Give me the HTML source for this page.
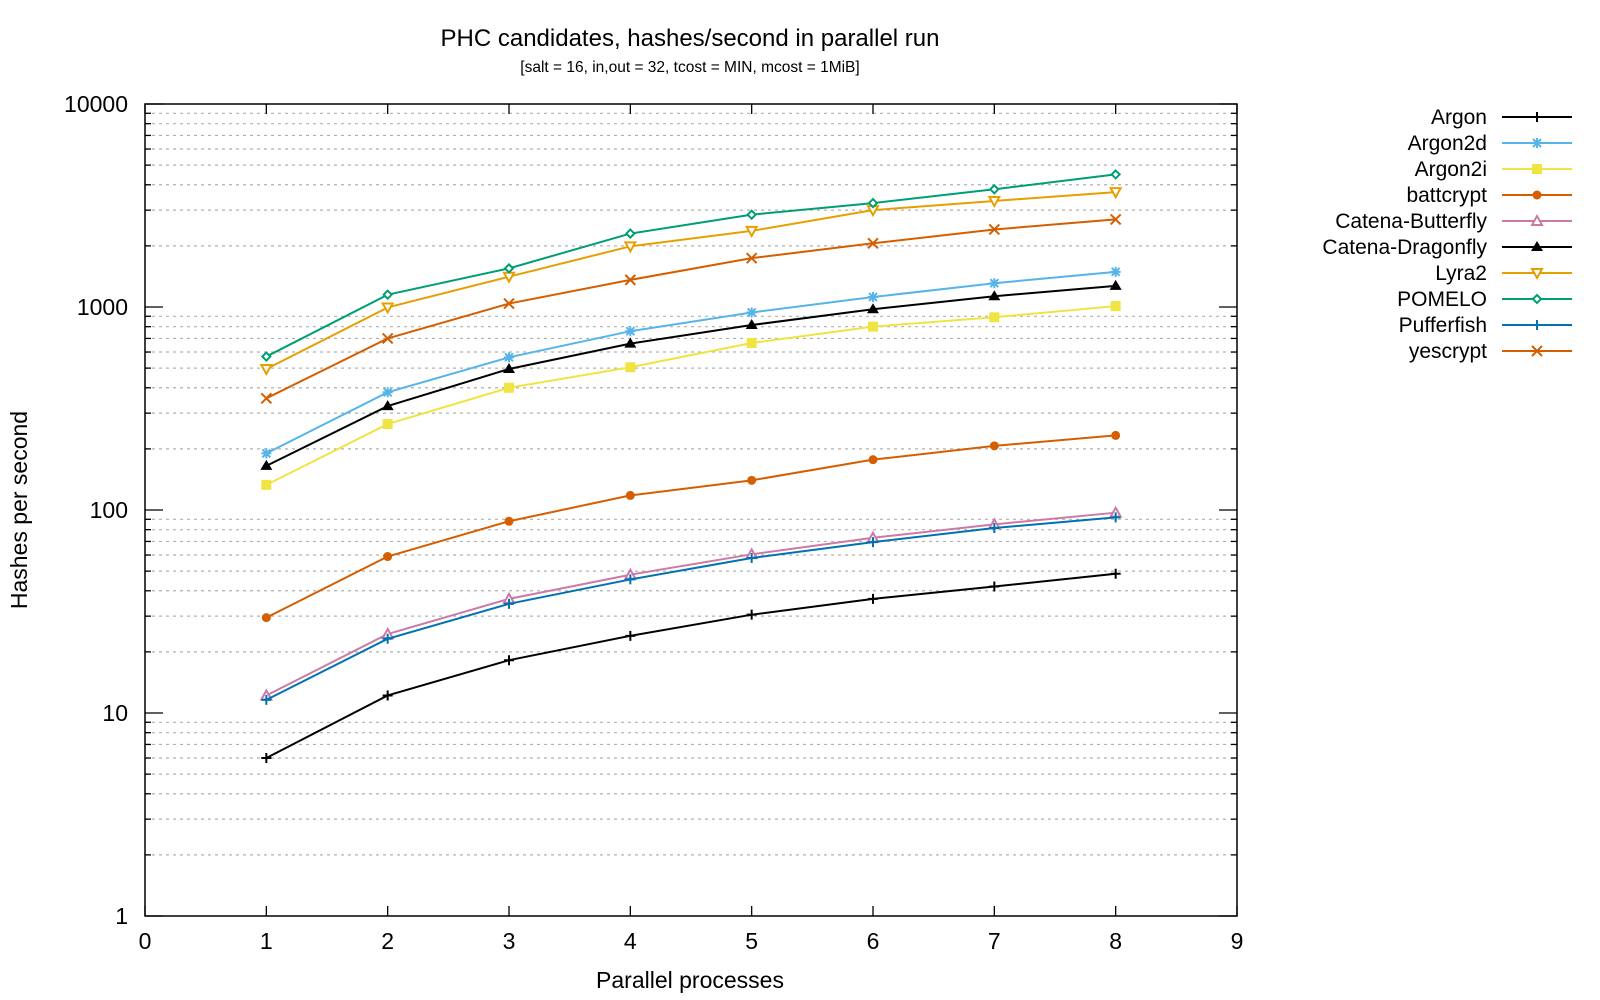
<!DOCTYPE html>
<html><head><meta charset="utf-8"><style>
body{margin:0;background:#fff;}
svg{display:block;font-family:"Liberation Sans",sans-serif;}
</style></head><body>
<svg id="chart" width="1600" height="1000" viewBox="0 0 1600 1000">
<text x="690" y="46" font-size="24" text-anchor="middle">PHC candidates, hashes/second in parallel run</text>
<text x="690" y="72" font-size="15.5" text-anchor="middle">[salt = 16, in,out = 32, tcost = MIN, mcost = 1MiB]</text>
<text transform="translate(27,510) rotate(-90)" font-size="23" text-anchor="middle">Hashes per second</text>
<text x="690" y="988" font-size="23" text-anchor="middle">Parallel processes</text>
<g id="grid"></g><g id="axes"></g><g id="series"></g><g id="legend"></g>
</svg>
<script>
const xs=[1,2,3,4,5,6,7,8];
const names=["Argon","Argon2d","Argon2i","battcrypt","Catena-Butterfly","Catena-Dragonfly","Lyra2","POMELO","Pufferfish","yescrypt"];
const argon=[6,12.2,18.2,24,30.5,36.5,42,48.5];
const argon2d=[190,380,565,760,940,1120,1310,1490];
const argon2i=[133,265,400,505,665,800,890,1010];
const battcrypt=[29.5,59,88,118,140,177,207,233];
const catenaButterfly=[12.2,24.5,36.5,48,60.5,73,85,97];
const catenaDragonfly=[165,325,495,660,815,975,1130,1270];
const lyra2=[495,995,1410,1990,2370,3000,3330,3680];
const pomelo=[570,1150,1550,2300,2850,3250,3800,4500];
const pufferfish=[11.6,23.2,34.5,45.5,58,69.5,81.5,92];
const yescrypt=[355,700,1040,1360,1740,2060,2410,2700];
const xTicks=[0,1,2,3,4,5,6,7,8,9];
const yTicks=[1,10,100,1000,10000];
const data=[argon,argon2d,argon2i,battcrypt,catenaButterfly,catenaDragonfly,lyra2,pomelo,pufferfish,yescrypt];
const colors=["#000","#56b4e9","#f0e442","#d55e00","#cc79a7","#000","#e69f00","#009e73","#0072b2","#d55e00"];
const markers=["plus","star","square","circle","tri","trifill","tridown","diamond","plus","cross"];
const L=145,R=1237,T=104,B=916;
const X=v=>L+(v-0)/9*(R-L);
const Y=v=>B-(Math.log10(v)-0)/4*(B-T);
const NS="http://www.w3.org/2000/svg";
function mk(tag,at,par){const e=document.createElementNS(NS,tag);for(const k in at)e.setAttribute(k,at[k]);par.appendChild(e);return e;}
const grid=document.getElementById('grid'),axes=document.getElementById('axes'),ser=document.getElementById('series'),leg=document.getElementById('legend');
for(let d=0;d<4;d++){for(let m=2;m<=9;m++){const v=m*Math.pow(10,d),y=Y(v);
const g=mk('line',{x1:L,x2:R,y1:y,y2:y,stroke:'#b0b0b0','stroke-dasharray':'3,4','stroke-width':1.2},grid);


mk('line',{x1:L,x2:L+6,y1:y,y2:y,stroke:'#000','stroke-width':1.3},axes);mk('line',{x1:R,x2:R-6,y1:y,y2:y,stroke:'#000','stroke-width':1.3},axes);}}
yTicks.forEach(v=>{const y=Y(v);mk('line',{x1:L,x2:L+18,y1:y,y2:y,stroke:'#000','stroke-width':1.3},axes);mk('line',{x1:R,x2:R-18,y1:y,y2:y,stroke:'#000','stroke-width':1.3},axes);
const t=mk('text',{x:128,y:y+8,'font-size':23,'text-anchor':'end'},axes);t.textContent=v;

});
xTicks.forEach(v=>{const x=X(v);mk('line',{x1:x,x2:x,y1:B,y2:B-10,stroke:'#000','stroke-width':1.3},axes);mk('line',{x1:x,x2:x,y1:T,y2:T+10,stroke:'#000','stroke-width':1.3},axes);
const t=mk('text',{x:x,y:B+33,'font-size':23,'text-anchor':'middle'},axes);t.textContent=v;

});
const fr=mk('rect',{x:L,y:T,width:R-L,height:B-T,fill:'none',stroke:'#000','stroke-width':1.5},axes);


function marker(type,x,y,c,par){const s=5;
if(type==='plus'){mk('path',{d:`M${x-s} ${y}H${x+s}M${x} ${y-s}V${y+s}`,stroke:c,'stroke-width':2,fill:'none'},par);}
else if(type==='cross'){mk('path',{d:`M${x-s} ${y-s}L${x+s} ${y+s}M${x-s} ${y+s}L${x+s} ${y-s}`,stroke:c,'stroke-width':2,fill:'none'},par);}
else if(type==='star'){mk('path',{d:`M${x-s} ${y}H${x+s}M${x} ${y-s}V${y+s}M${x-4} ${y-4}L${x+4} ${y+4}M${x-4} ${y+4}L${x+4} ${y-4}`,stroke:c,'stroke-width':2,fill:'none'},par);}
else if(type==='square'){mk('rect',{x:x-5,y:y-5,width:10,height:10,fill:c},par);}
else if(type==='circle'){mk('circle',{cx:x,cy:y,r:4.5,fill:c},par);}
else if(type==='tri'){mk('path',{d:`M${x} ${y-5}L${x+5} ${y+4}L${x-5} ${y+4}Z`,stroke:c,'stroke-width':2,fill:'#fff'},par);}
else if(type==='trifill'){mk('path',{d:`M${x} ${y-6}L${x+6} ${y+4}L${x-6} ${y+4}Z`,fill:c},par);}
else if(type==='tridown'){mk('path',{d:`M${x} ${y+5}L${x+5} ${y-4}L${x-5} ${y-4}Z`,stroke:c,'stroke-width':2,fill:'#fff'},par);}
else if(type==='diamond'){mk('path',{d:`M${x} ${y-4}L${x+4} ${y}L${x} ${y+4}L${x-4} ${y}Z`,stroke:c,'stroke-width':2,fill:'#fff'},par);}}
data.forEach((vals,i)=>{const g=mk('g',{},ser);


mk('polyline',{points:vals.map((v,j)=>X(xs[j])+','+Y(v)).join(' '),fill:'none',stroke:colors[i],'stroke-width':2},g);
vals.forEach((v,j)=>marker(markers[i],X(xs[j]),Y(v),colors[i],g));
const ly=117+i*26;const lg=mk('g',{},leg);


const t=mk('text',{x:1487,y:ly+7,'font-size':21,'text-anchor':'end'},lg);t.textContent=names[i];
mk('line',{x1:1502,x2:1572,y1:ly,y2:ly,stroke:colors[i],'stroke-width':2},lg);
marker(markers[i],1537,ly,colors[i],lg);});
</script>
</body></html>
